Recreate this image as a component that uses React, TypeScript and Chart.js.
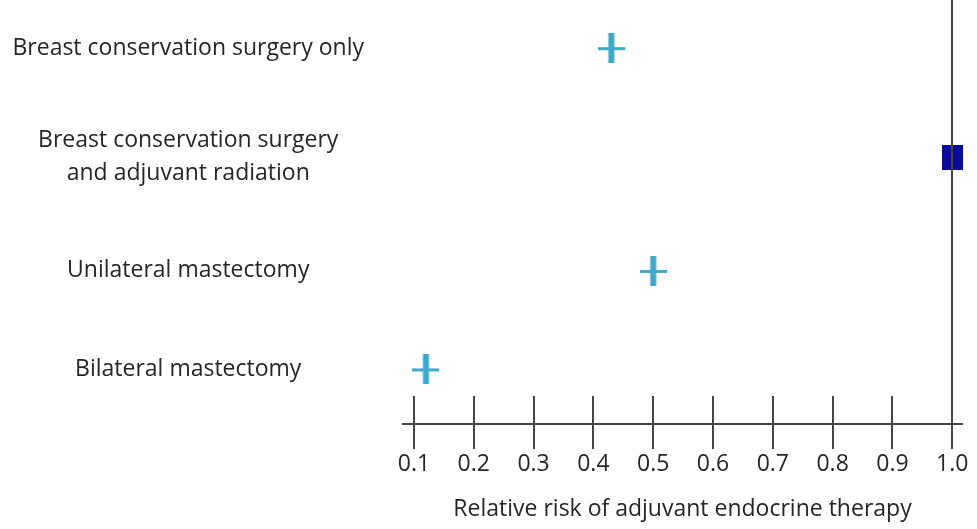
import React, { useEffect, useRef } from "react";
import { Chart, registerables } from "chart.js";

Chart.register(...registerables);

const categories: (string | string[])[] = [
  "Breast conservation surgery only",
  ["Breast conservation surgery", "and adjuvant radiation"],
  "Unilateral mastectomy",
  "Bilateral mastectomy",
];
const rowPositions = [0.45, 1.47, 2.53, 3.45];
const relativeRisk = [0.43, 1.0, 0.5, 0.12];
const isReference = [false, true, false, false];
const tickValues = [0.1, 0.2, 0.3, 0.4, 0.5, 0.6, 0.7, 0.8, 0.9, 1.0];
const tickLabels = ["0.1", "0.2", "0.3", "0.4", "0.5", "0.6", "0.7", "0.8", "0.9", "1.0"];
const referenceValue = 1.0;
const axisTitle = "Relative risk of adjuvant endocrine therapy";

const FONT = "'Open Sans', 'DejaVu Sans', sans-serif";
const TEXT = "#262626";
const LINE = "#444444";

function makeCross(): HTMLCanvasElement {
  const c = document.createElement("canvas");
  c.width = 27;
  c.height = 30;
  const g = c.getContext("2d")!;
  g.fillStyle = "#3eaacb";
  g.fillRect(0, 14, 27, 3);
  g.fillRect(10.5, 0, 6, 30);
  return c;
}

function makeSquare(): HTMLCanvasElement {
  const c = document.createElement("canvas");
  c.width = 21;
  c.height = 25;
  const g = c.getContext("2d")!;
  g.fillStyle = "#0a0a9e";
  g.fillRect(0, 0, 21, 25);
  return c;
}

const axisPlugin = {
  id: "forestAxis",
  afterDatasetsDraw(chart: any) {
    const { ctx, chartArea, scales } = chart;
    const x = scales.x;
    const yAxis = chartArea.bottom;
    ctx.save();
    ctx.strokeStyle = LINE;
    ctx.lineWidth = 2;
    ctx.beginPath();
    ctx.moveTo(chartArea.left, yAxis);
    ctx.lineTo(chartArea.right, yAxis);
    tickValues.forEach((v) => {
      const px = Math.round(x.getPixelForValue(v));
      ctx.moveTo(px, yAxis - 28);
      ctx.lineTo(px, yAxis + 25);
    });
    const rx = Math.round(x.getPixelForValue(referenceValue));
    ctx.moveTo(rx, chartArea.top);
    ctx.lineTo(rx, yAxis + 25);
    ctx.stroke();
    ctx.restore();
  },
};

const zeroPadding = (s: any) => {
  s.paddingTop = 0;
  s.paddingBottom = 0;
  s.paddingLeft = 0;
  s.paddingRight = 0;
};

export default function App() {
  const ref = useRef<HTMLCanvasElement | null>(null);
  useEffect(() => {
    document.body.style.margin = "0";
    const cross = makeCross();
    const square = makeSquare();
    const chart = new Chart(ref.current!, {
      type: "scatter",
      data: {
        datasets: [
          {
            data: relativeRisk.map((v, i) => ({ x: v, y: rowPositions[i] })),
            pointStyle: isReference.map((r) => (r ? square : cross)) as any,
            pointRadius: 14,
            pointHoverRadius: 14,
            clip: false as any,
          },
        ],
      },
      options: {
        animation: false,
        responsive: false,
        maintainAspectRatio: false,
        layout: { autoPadding: false, padding: { top: 0, right: 14, bottom: 0, left: 0 } },
        plugins: { legend: { display: false }, tooltip: { enabled: false } },
        scales: {
          x: {
            type: "linear",
            min: 0.08,
            max: 1.018,
            grid: { display: false, drawTicks: false },
            border: { display: false },
            afterBuildTicks: (s: any) => {
              s.ticks = tickValues.map((v) => ({ value: v }));
            },
            afterFit: (s: any) => {
              zeroPadding(s);
              s.height = 105;
            },
            ticks: {
              autoSkip: false,
              maxRotation: 0,
              padding: 27,
              color: TEXT,
              font: { family: FONT, size: 23 },
              callback: (_v: any, i: number) => tickLabels[i],
            },
            title: {
              display: true,
              text: axisTitle,
              color: TEXT,
              font: { family: FONT, size: 23 },
              padding: { top: 10, bottom: 6 },
            },
          },
          y: {
            type: "linear",
            min: 0,
            max: 3.96,
            reverse: true,
            grid: { display: false, drawTicks: false },
            border: { display: false },
            afterBuildTicks: (s: any) => {
              s.ticks = rowPositions.map((v) => ({ value: v }));
            },
            afterFit: (s: any) => {
              zeroPadding(s);
              s.width = 402;
            },
            ticks: {
              autoSkip: false,
              crossAlign: "center",
              padding: 38,
              color: TEXT,
              font: { family: FONT, size: 23, lineHeight: 1.43 },
              callback: (_v: any, i: number) => categories[i] as any,
            },
          },
        },
      },
      plugins: [axisPlugin],
    });
    return () => chart.destroy();
  }, []);
  return <canvas ref={ref} width={977} height={529} style={{ display: "block" }} />;
}
